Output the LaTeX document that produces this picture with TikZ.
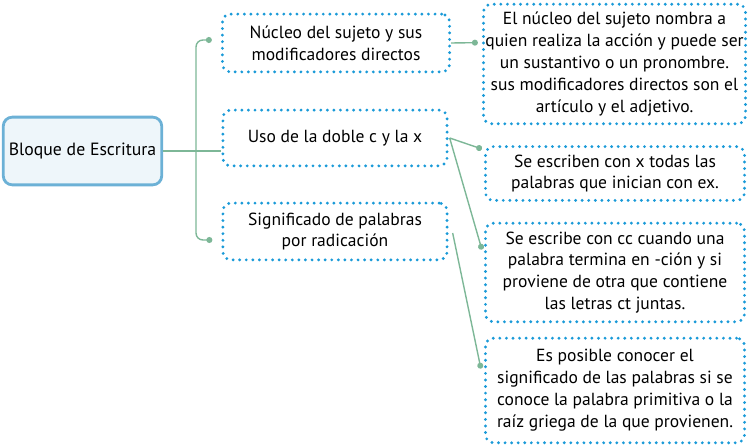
\documentclass[tikz,border=0pt]{standalone}
\usepackage{fontspec}
\setmainfont{PT Sans}
\usetikzlibrary{arrows.meta,calc}
\definecolor{dotblue}{HTML}{1A9AD8}
\definecolor{linegreen}{HTML}{7DB797}
\definecolor{rootfill}{HTML}{EEF6FA}
\definecolor{rootborder}{HTML}{6CB1D6}
\tikzset{
  dotbox/.style={draw=dotblue, line width=3.2pt, line cap=round, dash pattern=on 0pt off 6.6pt,
    rounded corners=8, align=center, inner sep=0pt,
    font=\fontsize{17.6}{22}\selectfont},
  rootbox/.style={draw=rootborder, fill=rootfill, line width=2.8pt, rounded corners=9,
    minimum width=159, minimum height=68, inner sep=0pt, font=\fontsize{17.8}{22}\selectfont},
  conn/.style={draw=linegreen, line width=1.4pt},
  dotend/.style={-{Circle[length=6pt,width=6pt]}},
}
\begin{document}
\begin{tikzpicture}[x=1bp,y=-1bp]
\useasboundingbox (0,0) rectangle (750,448);
\node[rootbox] (root) at (82.5,151) {Bloque de Escritura};
\node[dotbox, minimum width=228, minimum height=58] (b1) at (336,43) {Núcleo del sujeto y sus\\modificadores directos};
\node[dotbox, minimum width=225, minimum height=56] (b2) at (335,138) {Uso de la doble c y la x};
\node[dotbox, minimum width=225, minimum height=57] (b3) at (335,231.5) {Significado de palabras\\por radicación};
\node[dotbox, minimum width=263, minimum height=120] (r1) at (614.5,64) {El núcleo del sujeto nombra a\\quien realiza la acción y puede ser\\un sustantivo o un pronombre.\\sus modificadores directos son el\\artículo y el adjetivo.};
\node[dotbox, minimum width=260, minimum height=54] (r2) at (615,173.5) {Se escriben con x todas las\\palabras que inician con ex.};
\node[dotbox, minimum width=260, minimum height=99] (r3) at (615,272.5) {Se escribe con cc cuando una\\palabra termina en -ción y si\\proviene de otra que contiene\\las letras ct juntas.};
\node[dotbox, minimum width=260, minimum height=105] (r4) at (615,390.5) {Es posible conocer el\\significado de las palabras si se\\conoce la palabra primitiva o la\\raíz griega de la que provienen.};
\coordinate (trunk) at (196,151);
\coordinate (d1) at ($(b1.west)+(-9,-3)$);
\coordinate (d3) at ($(b3.west)+(-9,8.5)$);
\coordinate (e1) at ($(r1.north west)+(-4,40)$);
\coordinate (e2) at ($(r2.north west)+(-2,4)$);
\coordinate (e3) at ($(r3.north west)+(-2,28)$);
\coordinate (e4) at ($(r4.north west)+(-3,32)$);
\coordinate (s2) at ($(b2.east)+(1,0)$);
\coordinate (s3) at ($(b3.east)+(4,1.5)$);
% root connectors
\draw[conn] (root.east) -- (root.east -| b2.west);
\draw[conn, rounded corners=7, {Circle[length=6pt,width=6pt]}-{Circle[length=6pt,width=6pt]}] (d1) -| (trunk) |- (d3);
% right connectors
\draw[conn, dotend] (b1.east) -- (e1);
\draw[conn, dotend] (s2) -- (e2);
\draw[conn, dotend] (s2) -- (e3);
\draw[conn, dotend] (s3) -- (e4);
\end{tikzpicture}
\end{document}
